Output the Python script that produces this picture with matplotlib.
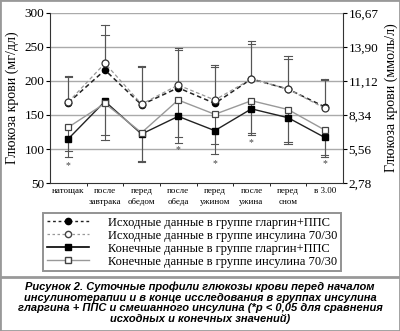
import matplotlib
matplotlib.use("Agg")
import matplotlib.pyplot as plt
from matplotlib.lines import Line2D
from matplotlib.patches import Rectangle

# time points
cats = ['натощак', 'после\nзавтрака', 'перед\nобедом', 'после\nобеда',
        'перед\nужином', 'после\nужина', 'перед\nсном', 'в 3.00']

# mean glucose, mg/dl
base_glar = [168, 216, 165, 190, 167, 203, 188, 162]
base_mix = [169, 226, 166, 194, 172, 203, 188, 160]
final_glar = [115, 170, 122, 148, 127, 159, 146, 117]
final_mix = [132, 167, 124, 172, 151, 171, 158, 128]

# error bar ends (baseline up, final down)
base_glar_top = [206, 268, 220, 246, 220, 254, 232, 201]
base_mix_top = [208, 282, 222, 248, 224, 258, 236, 203]
final_glar_low = [89, 113, 81, 109, 93, 121, 107, 88]
final_mix_low = [97, 121, 82, 118, 108, 124, 111, 91]

# significance marks
star_idx = [0, 3, 4, 5, 7]
star_y = [76, 99, 78, 110, 79]

left_ticks = [50, 100, 150, 200, 250, 300]
right_labels = ['2,78', '5,56', '8,34', '11,12', '13,90', '16,67']

serif = 'Liberation Serif'
err_c = '#555555'

fig = plt.figure(figsize=(4.0, 3.31), dpi=100)
ax = fig.add_axes([0.125, 0.447, 0.7325, 0.514])

x = [i + 0.5 for i in range(len(cats))]

# error bars
for i in range(len(x)):
    ax.plot([x[i], x[i]], [base_glar[i], base_glar_top[i]], color=err_c, lw=0.8, zorder=2)
    ax.plot([x[i], x[i]], [base_mix[i], base_mix_top[i]], color=err_c, lw=0.8, zorder=2)
    ax.plot([x[i], x[i]], [final_glar[i], final_glar_low[i]], color=err_c, lw=0.8, zorder=2)
    ax.plot([x[i], x[i]], [final_mix[i], final_mix_low[i]], color=err_c, lw=0.8, zorder=2)
    for yy in (base_glar_top[i], base_mix_top[i], final_glar_low[i], final_mix_low[i]):
        ax.plot([x[i] - 0.1, x[i] + 0.1], [yy, yy], color=err_c, lw=0.8, zorder=2)

ax.plot(x, base_mix, ls=(0, (3, 2)), color='#999999', lw=0.9, marker='o',
        ms=5, mfc='white', mec='#333333', mew=0.9, zorder=4)
ax.plot(x, base_glar, ls=(0, (3, 2)), color='#222222', lw=1.1, marker='o',
        ms=4.5, mfc='black', mec='black', zorder=3)
ax.plot(x, final_glar, ls='-', color='#222222', lw=1.0, marker='s',
        ms=4.2, mfc='black', mec='black', zorder=3)
ax.plot(x, final_mix, ls='-', color='#999999', lw=1.0, marker='s',
        ms=4.5, mfc='white', mec='#444444', mew=0.9, zorder=4)

for i, yy in zip(star_idx, star_y):
    ax.text(x[i], yy, '*', ha='center', va='center', fontsize=7,
            color='#444444', family=serif)

ax.set_xlim(0, 8)
ax.set_ylim(50, 300)
ax.set_yticks(left_ticks)
ax.set_yticklabels([str(t) for t in left_ticks], family=serif, fontsize=9.5)
for t in left_ticks[1:]:
    ax.axhline(t, color='#aaaaaa', lw=1.0, zorder=1)

ax.set_xticks(x)
ax.set_xticklabels(cats, family=serif, fontsize=6.5, linespacing=1.4)
ax.tick_params(axis='x', length=0, pad=3)
ax.set_xticks(range(1, 8), minor=True)
ax.tick_params(axis='x', which='minor', length=2, width=0.6, direction='out')
ax.tick_params(axis='y', length=3, width=0.8, pad=1)

ax.spines['top'].set_visible(False)
ax.spines['right'].set_visible(False)
ax.spines['left'].set_color('#333333')
ax.spines['bottom'].set_color('#333333')
ax.set_ylabel('Глюкоза крови (мг/дл)', family=serif, fontsize=10, labelpad=4)

ax2 = ax.twinx()
ax2.set_ylim(50, 300)
ax2.set_yticks(left_ticks)
ax2.set_yticklabels(right_labels, family=serif, fontsize=9.5)
ax2.tick_params(axis='y', length=3, width=0.8, pad=1)
for s in ('top', 'left', 'bottom'):
    ax2.spines[s].set_visible(False)
ax2.spines['right'].set_color('#333333')
ax2.set_ylabel('Глюкоза крови (ммоль/л)', family=serif, fontsize=10, labelpad=4)

handles = [
    Line2D([], [], ls=(0, (2, 2)), color='#222222', lw=1.0, marker='o', ms=4.5,
           mfc='black', mec='black'),
    Line2D([], [], ls=(0, (2, 2)), color='#999999', lw=0.9, marker='o', ms=4.5,
           mfc='white', mec='#444444'),
    Line2D([], [], ls='-', color='black', lw=1.2, marker='s', ms=4,
           mfc='black', mec='black'),
    Line2D([], [], ls='-', color='#999999', lw=1.0, marker='s', ms=4,
           mfc='white', mec='#444444'),
]
labels = ['Исходные данные в группе гларгин+ППС',
          'Исходные данные в группе инсулина 70/30',
          'Конечные данные в группе гларгин+ППС',
          'Конечные данные в группе инсулина 70/30']
leg = fig.legend(handles, labels, loc='upper left', bbox_to_anchor=(0.108, 0.357),
                 prop={'family': serif, 'size': 9}, frameon=True, fancybox=False,
                 handlelength=3.4, handletextpad=1.5, labelspacing=0.08,
                 borderpad=0.3, borderaxespad=0)
leg.get_frame().set_edgecolor('#777777')
leg.get_frame().set_linewidth(1.4)

# separator and frame
fig.add_artist(Line2D([0, 1], [1 - 277 / 331, 1 - 277 / 331], color='#999999',
                      lw=2.0, transform=fig.transFigure))
fig.add_artist(Rectangle((0, 0), 1, 1, fill=False, edgecolor='#999999', lw=2.0,
                         transform=fig.transFigure))

caption = ('Рисунок 2. Суточные профили глюкозы крови перед началом\n'
           'инсулинотерапии и в конце исследования в группах инсулина\n'
           'гларгина + ППС и смешанного инсулина (*p < 0,05 для сравнения\n'
           'исходных и конечных значений)')
fig.text(0.5, 1 - 282 / 331, caption, ha='center', va='top', family='Liberation Sans',
         fontsize=8, fontweight='bold', fontstyle='italic', linespacing=1.05)

fig.savefig('out.png', dpi=100)
